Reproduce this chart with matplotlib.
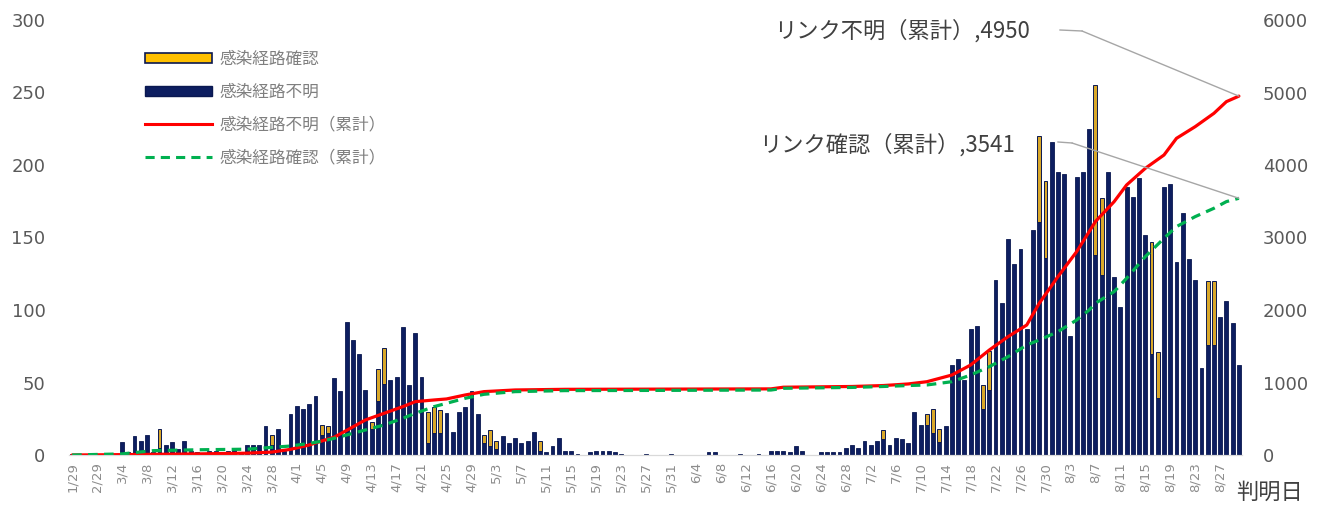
import matplotlib
matplotlib.use('Agg')
import matplotlib.pyplot as plt
from matplotlib.patches import Patch
from matplotlib.lines import Line2D
import pandas as pd

plt.rcParams['font.family'] = ['Noto Sans CJK JP', 'DejaVu Sans']

# categories: report dates (1/29, a few late-Feb days, then daily from 2/29)
first_dates = ['1/29', '2/26', '2/27', '2/28']
days = pd.date_range('2020-02-29', '2020-08-30')
dates = first_dates + [f'{d.month}/{d.day}' for d in days]

# bar heights: navy part (感染経路不明) and yellow part (感染経路確認) on top
unknown_bar = [
    1, 0, 1, 1, 0, 0, 1, 1, 9, 2,
    13, 10, 14, 2, 5, 7, 9, 4, 10, 3,
    2, 1, 3, 3, 2, 3, 5, 2, 7, 7,
    7, 20, 7, 18, 3, 28, 34, 32, 35, 41,
    14, 15, 53, 44, 92, 79, 70, 45, 18, 37,
    49, 52, 54, 88, 48, 84, 54, 8, 15, 15,
    29, 16, 30, 33, 44, 28, 8, 6, 4, 13,
    8, 12, 8, 10, 16, 3, 2, 6, 12, 3,
    3, 1, 0, 2, 3, 3, 3, 2, 1, 0,
    0, 0, 1, 0, 0, 0, 1, 0, 0, 0,
    0, 0, 2, 2, 0, 0, 0, 1, 0, 0,
    1, 0, 3, 3, 3, 2, 6, 3, 0, 0,
    2, 2, 2, 2, 5, 7, 5, 10, 7, 10,
    11, 7, 12, 11, 8, 30, 21, 21, 15, 9,
    20, 62, 66, 52, 87, 89, 32, 45, 121, 105,
    149, 132, 142, 87, 155, 161, 136, 216, 195, 194,
    82, 192, 195, 225, 138, 124, 195, 123, 102, 185,
    178, 191, 152, 70, 39, 185, 187, 133, 167, 135,
    121, 60, 76, 76, 95, 106, 91, 62,
]
confirmed_bar = [
    0, 0, 0, 0, 0, 0, 0, 0, 0, 0,
    0, 0, 0, 0, 13, 0, 0, 0, 0, 0,
    0, 0, 0, 0, 0, 0, 0, 0, 0, 0,
    0, 0, 7, 0, 0, 0, 0, 0, 0, 0,
    7, 5, 0, 0, 0, 0, 0, 0, 5, 22,
    25, 0, 0, 0, 0, 0, 0, 22, 18, 16,
    0, 0, 0, 0, 0, 0, 6, 11, 6, 0,
    0, 0, 0, 0, 0, 7, 0, 0, 0, 0,
    0, 0, 0, 0, 0, 0, 0, 0, 0, 0,
    0, 0, 0, 0, 0, 0, 0, 0, 0, 0,
    0, 0, 0, 0, 0, 0, 0, 0, 0, 0,
    0, 0, 0, 0, 0, 0, 0, 0, 0, 0,
    0, 0, 0, 0, 0, 0, 0, 0, 0, 0,
    6, 0, 0, 0, 0, 0, 0, 7, 17, 9,
    0, 0, 0, 0, 0, 0, 16, 27, 0, 0,
    0, 0, 0, 0, 0, 59, 53, 0, 0, 0,
    0, 0, 0, 0, 117, 53, 0, 0, 0, 0,
    0, 0, 0, 77, 32, 0, 0, 0, 0, 0,
    0, 0, 44, 44, 0, 0, 0, 0,
]

# cumulative lines, read at these dates
unknown_cum_dates = ['1/29', '3/4', '3/16', '3/24', '3/28', '3/31', '4/3', '4/5', '4/7', '4/9',
                     '4/12', '4/15', '4/18', '4/20', '4/23', '4/25', '4/28', '5/1', '5/4', '5/6',
                     '5/14', '5/25', '6/16', '6/18', '6/29', '7/4', '7/8', '7/11', '7/15', '7/18',
                     '7/21', '7/24', '7/27', '7/29', '8/1', '8/4', '8/6', '8/7', '8/10', '8/12',
                     '8/15', '8/18', '8/20', '8/23', '8/26', '8/28', '8/30']
unknown_cum = [0, 5, 15, 25, 40, 78, 138, 193, 245, 340,
               483, 575, 667, 736, 759, 773, 828, 874, 888, 897,
               906, 908, 912, 935, 945, 958, 980, 1011, 1103, 1241,
               1448, 1632, 1793, 2092, 2460, 2805, 3080, 3219, 3494, 3724,
               3954, 4138, 4368, 4529, 4713, 4874, 4950]

confirmed_cum_dates = ['1/29', '3/4', '3/9', '3/16', '3/24', '3/28', '3/31', '4/3', '4/5', '4/7',
                       '4/9', '4/12', '4/15', '4/18', '4/20', '4/23', '4/25', '4/28', '5/1', '5/4',
                       '5/6', '5/14', '5/25', '6/16', '6/18', '6/29', '7/4', '7/8', '7/11', '7/15',
                       '7/18', '7/21', '7/24', '7/27', '7/29', '8/1', '8/4', '8/6', '8/7', '8/10',
                       '8/12', '8/15', '8/18', '8/20', '8/23', '8/26', '8/28', '8/30']
confirmed_cum = [0, 15, 60, 72, 80, 105, 124, 160, 190, 230,
                 276, 345, 414, 506, 575, 667, 713, 782, 837, 860,
                 874, 888, 890, 896, 920, 932, 945, 958, 966, 1011,
                 1103, 1218, 1356, 1517, 1586, 1701, 1862, 2000, 2092, 2253,
                 2437, 2736, 2989, 3150, 3288, 3403, 3495, 3541]

NAVY = '#0d1e60'
EDGE = '#0a1850'
YELLOW = '#FFC000'
YELLOW_BAR = '#d9a82a'
RED = '#ff0000'
GREEN = '#00b050'
GRAY = '#7f7f7f'

W, H = 1322, 513
fig = plt.figure(figsize=(W / 100, H / 100), dpi=100)
ax = fig.add_axes([69 / W, 58 / H, (1242 - 69) / W, (455 - 20) / H])

x = list(range(len(dates)))
xn = [i for i in x if unknown_bar[i] > 0]
ax.bar(xn, [unknown_bar[i] for i in xn], width=0.62, color=NAVY, edgecolor=EDGE, linewidth=0.6)
xc = [i for i in x if confirmed_bar[i] > 0]
ax.bar(xc, [confirmed_bar[i] for i in xc], bottom=[unknown_bar[i] for i in xc],
       width=0.62, color=YELLOW_BAR, edgecolor=EDGE, linewidth=0.7)

ax.set_xlim(-0.5, len(dates) - 0.5)
ax.set_ylim(0, 300)
ax.set_yticks(range(0, 301, 50))
ax.set_xticks(x[::4])
ax.set_xticklabels(dates[::4], rotation=90, fontsize=9.5, color='#8c8c8c', family='DejaVu Sans')
ax.tick_params(axis='x', length=0, pad=5)
ax.tick_params(axis='y', length=0, pad=17, labelsize=13, labelcolor='#595959')
for lab in ax.get_yticklabels():
    lab.set_family('DejaVu Sans')

ax2 = ax.twinx()
ax2.set_ylim(0, 6000)
ax2.set_yticks(range(0, 6001, 1000))
ax2.tick_params(axis='y', length=0, pad=15, labelsize=13, labelcolor='#595959')
for lab in ax2.get_yticklabels():
    lab.set_family('DejaVu Sans')

xr = [dates.index(d) for d in unknown_cum_dates]
ax2.plot(xr, unknown_cum, color=RED, lw=2.3, solid_capstyle='round')
xg = [dates.index(d) for d in confirmed_cum_dates]
ax2.plot(xg, confirmed_cum, color=GREEN, lw=2.3, linestyle=(0, (3, 2)))

for a in (ax, ax2):
    for s in ('left', 'right', 'top'):
        a.spines[s].set_visible(False)
    a.spines['bottom'].set_color('#d9d9d9')

handles = [
    Patch(facecolor=YELLOW, edgecolor=EDGE, linewidth=1.2),
    Patch(facecolor=NAVY, edgecolor=EDGE),
    Line2D([0], [0], color=RED, lw=2.2),
    Line2D([0], [0], color=GREEN, lw=2.2, linestyle=(0, (3, 2))),
]
labels = ['感染経路確認', '感染経路不明', '感染経路不明（累計）', '感染経路確認（累計）']
leg = fig.legend(handles, labels, loc='upper left', bbox_to_anchor=(130 / W, 1 - 36 / H),
                 frameon=False, fontsize=12, handlelength=4.0, handleheight=0.55,
                 labelspacing=0.95, handletextpad=0.45)
for t in leg.get_texts():
    t.set_color(GRAY)

# data labels for the last cumulative points
last = len(dates) - 1
fig.text(1030 / W, 1 - 31 / H, f'リンク不明（累計）,{unknown_cum[-1]}', ha='right', va='center',
         fontsize=16, color='#404040')
fig.text(1015 / W, 1 - 145 / H, f'リンク確認（累計）,{confirmed_cum[-1]}', ha='right', va='center',
         fontsize=16, color='#404040')
lead = dict(arrowstyle='-', color='#a6a6a6', lw=1, shrinkA=0, shrinkB=0)
fig.add_artist(Line2D([1060 / W, 1082 / W], [1 - 30 / H, 1 - 31 / H], color='#a6a6a6', lw=1))
ax2.annotate('', xy=(last, unknown_cum[-1]), xytext=(1082 / W, 1 - 31 / H),
             textcoords='figure fraction', arrowprops=lead, annotation_clip=False)
fig.add_artist(Line2D([1058 / W, 1072 / W], [1 - 142 / H, 1 - 143 / H], color='#a6a6a6', lw=1))
ax2.annotate('', xy=(last, confirmed_cum[-1]), xytext=(1072 / W, 1 - 143 / H),
             textcoords='figure fraction', arrowprops=lead, annotation_clip=False)

fig.text(1236 / W, 1 - 492 / H, '判明日', ha='left', va='center', fontsize=16, color='#404040')

fig.savefig('out.png', dpi=100)
